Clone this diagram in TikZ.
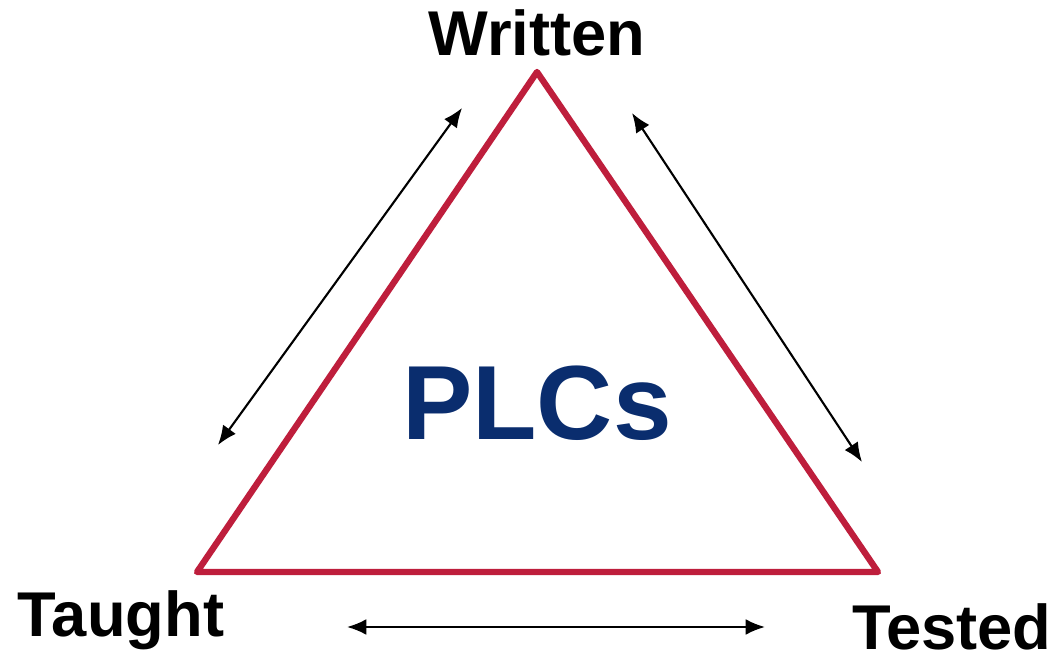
\documentclass[tikz,border=0pt]{standalone}
\usepackage{fontspec}
\setmainfont{Liberation Sans}
\usetikzlibrary{arrows.meta}
\definecolor{plcred}{RGB}{190,30,60}
\definecolor{plcnavy}{RGB}{10,45,110}
\tikzset{
  corner/.style={font=\fontsize{18}{20}\selectfont\bfseries, text=black, inner sep=0pt},
  link/.style={draw=black, line width=0.6pt, {Latex[length=5.5pt,width=4.5pt]}-{Latex[length=5.5pt,width=4.5pt]}},
  tri/.style={draw=plcred, line width=1.8pt, line join=round}
}
\begin{document}
\begin{tikzpicture}[x=1cm,y=1cm]
\useasboundingbox (0,0) rectangle (10.59,6.58);
% triangle corners
\coordinate (top) at (5.37,5.86);
\coordinate (bl) at (1.97,0.86);
\coordinate (br) at (8.78,0.86);
\draw[tri] (top) -- (br) -- (bl) -- cycle;
% labels
\node[corner] (written) at (5.37,6.25) {Written};
\node[corner] (taught) at (1.21,0.38) {Taught};
\node[corner] (tested) at (9.52,0.31) {Tested};
\node[font=\fontsize{30}{33}\selectfont\bfseries, text=plcnavy, inner sep=0pt] (plcs) at (5.37,2.55) {PLCs};
% arrow ends
\coordinate (l1) at (2.18,2.13);
\coordinate (l2) at (4.62,5.50);
\coordinate (r1) at (6.32,5.45);
\coordinate (r2) at (8.62,1.96);
\coordinate (b1) at (3.47,0.31);
\coordinate (b2) at (7.65,0.31);
\draw[link] (l1) -- (l2);
\draw[link] (r1) -- (r2);
\draw[link] (b1) -- (b2);
\end{tikzpicture}
\end{document}
